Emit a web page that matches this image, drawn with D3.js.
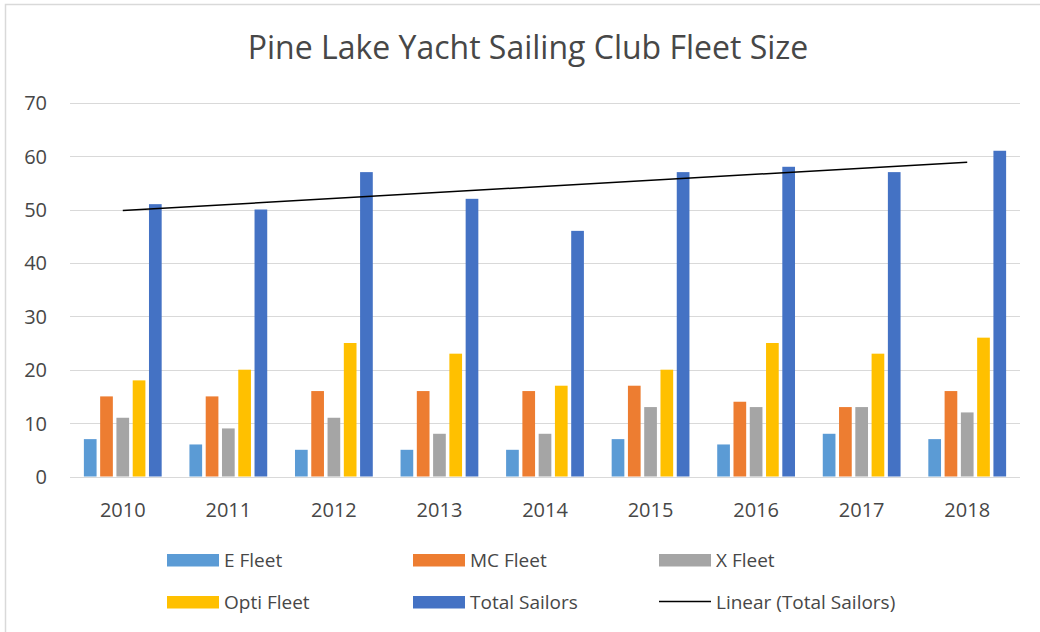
<!DOCTYPE html>
<html>
<head>
<meta charset="utf-8">
<script src="https://cdn.jsdelivr.net/npm/d3@7"></script>
<style>
  html, body { margin: 0; padding: 0; background: #fff; }
  svg { display: block; }
  text { font-family: "Open Sans", sans-serif; fill: #474747; }
</style>
</head>
<body>
<svg id="chart" width="1040" height="632"></svg>
<script>
const title = "Pine Lake Yacht Sailing Club Fleet Size";
const years = ["2010","2011","2012","2013","2014","2015","2016","2017","2018"];
const seriesNames = ["E Fleet","MC Fleet","X Fleet","Opti Fleet","Total Sailors"];
const eFleet  = [7, 6, 5, 5, 5, 7, 6, 8, 7];
const mcFleet = [15, 15, 16, 16, 16, 17, 14, 13, 16];
const xFleet  = [11, 9, 11, 8, 8, 13, 13, 13, 12];
const optiFleet = [18, 20, 25, 23, 17, 20, 25, 23, 26];
const totalSailors = [51, 50, 57, 52, 46, 57, 58, 57, 61];
const yTicks = [0, 10, 20, 30, 40, 50, 60, 70];
const colors = ["#5b9bd5", "#ed7d31", "#a5a5a5", "#ffc000", "#4472c4"];
const trendName = "Linear (Total Sailors)";

const seriesValues = [eFleet, mcFleet, xFleet, optiFleet, totalSailors];
const textColor = "#474747";

const svg = d3.select("#chart");

// frame
svg.append("rect").attr("x", 5.5).attr("y", 4.5).attr("width", 1100).attr("height", 700)
  .attr("fill", "none").attr("stroke", "#d9d9d9").attr("stroke-width", 1.5);

const x = d3.scaleBand().domain(years).range([70, 1020]).paddingInner(0.263).paddingOuter(0.1315);
const xi = d3.scaleBand().domain(seriesNames).range([0, x.bandwidth()]).paddingInner(0.22);
const y = d3.scaleLinear().domain([0, 70]).range([476.5, 102.7]);

// gridlines
svg.append("g").selectAll("line").data(yTicks).join("line")
  .attr("x1", 70).attr("x2", 1020)
  .attr("y1", d => Math.round(y(d)) + 0.5).attr("y2", d => Math.round(y(d)) + 0.5)
  .attr("stroke", "#d9d9d9").attr("stroke-width", 1);

// y axis labels
const yAxis = d3.axisLeft(y).tickValues(yTicks).tickSize(0).tickPadding(0);
const yg = svg.append("g").attr("transform", "translate(47,0)").call(yAxis);
yg.select(".domain").remove();
yg.selectAll("text").attr("font-size", 20).attr("fill", textColor)
  .style("font-family", '"Open Sans", sans-serif').attr("dy", "0.35em");

// x axis labels
const xAxis = d3.axisBottom(x).tickSize(0).tickPadding(0);
const xg = svg.append("g").attr("transform", "translate(0,502)").call(xAxis);
xg.select(".domain").remove();
xg.selectAll("text").attr("font-size", 20).attr("fill", textColor)
  .style("font-family", '"Open Sans", sans-serif').attr("dy", "0.75em");

// bars
const groups = svg.append("g").selectAll("g").data(years).join("g")
  .attr("transform", d => `translate(${x(d)},0)`);
groups.selectAll("rect")
  .data((yr, i) => seriesNames.map((s, k) => ({ s, k, v: seriesValues[k][i] })))
  .join("rect")
  .attr("x", d => xi(d.s))
  .attr("width", xi.bandwidth())
  .attr("y", d => y(d.v))
  .attr("height", d => y(0) - y(d.v))
  .attr("fill", d => colors[d.k]);

// linear trendline (least squares on Total Sailors)
const n = totalSailors.length;
const xs = d3.range(n);
const mx = d3.mean(xs), my = d3.mean(totalSailors);
const slope = d3.sum(xs, i => (i - mx) * (totalSailors[i] - my)) / d3.sum(xs, i => (i - mx) ** 2);
const intercept = my - slope * mx;
const cx = i => x(years[i]) + x.bandwidth() / 2;
svg.append("line")
  .attr("x1", cx(0)).attr("y1", y(intercept))
  .attr("x2", cx(n - 1)).attr("y2", y(intercept + slope * (n - 1)))
  .attr("stroke", "#000").attr("stroke-width", 1.5);

// title
svg.append("text").attr("x", 528).attr("y", 59).attr("text-anchor", "middle")
  .attr("font-size", 32).text(title);

// legend
const legendItems = [
  { name: seriesNames[0], color: colors[0], type: "rect" },
  { name: seriesNames[1], color: colors[1], type: "rect" },
  { name: seriesNames[2], color: colors[2], type: "rect" },
  { name: seriesNames[3], color: colors[3], type: "rect" },
  { name: seriesNames[4], color: colors[4], type: "rect" },
  { name: trendName, color: "#000", type: "line" }
];
const colX = [167, 413, 659];
const rowY = [560.5, 602.5];
const lg = svg.append("g").selectAll("g").data(legendItems).join("g")
  .attr("transform", (d, i) => `translate(${colX[i % 3]},${rowY[Math.floor(i / 3)]})`);
lg.filter(d => d.type === "rect").append("rect")
  .attr("x", 0).attr("y", -6.5).attr("width", 52).attr("height", 12.5).attr("fill", d => d.color);
lg.filter(d => d.type === "line").append("line")
  .attr("x1", 0).attr("x2", 52).attr("y1", -1).attr("y2", -1)
  .attr("stroke", d => d.color).attr("stroke-width", 1.5);
lg.append("text").attr("x", 57).attr("y", 0).attr("dy", "0.35em")
  .attr("font-size", 19).text(d => d.name);
</script>
</body>
</html>
